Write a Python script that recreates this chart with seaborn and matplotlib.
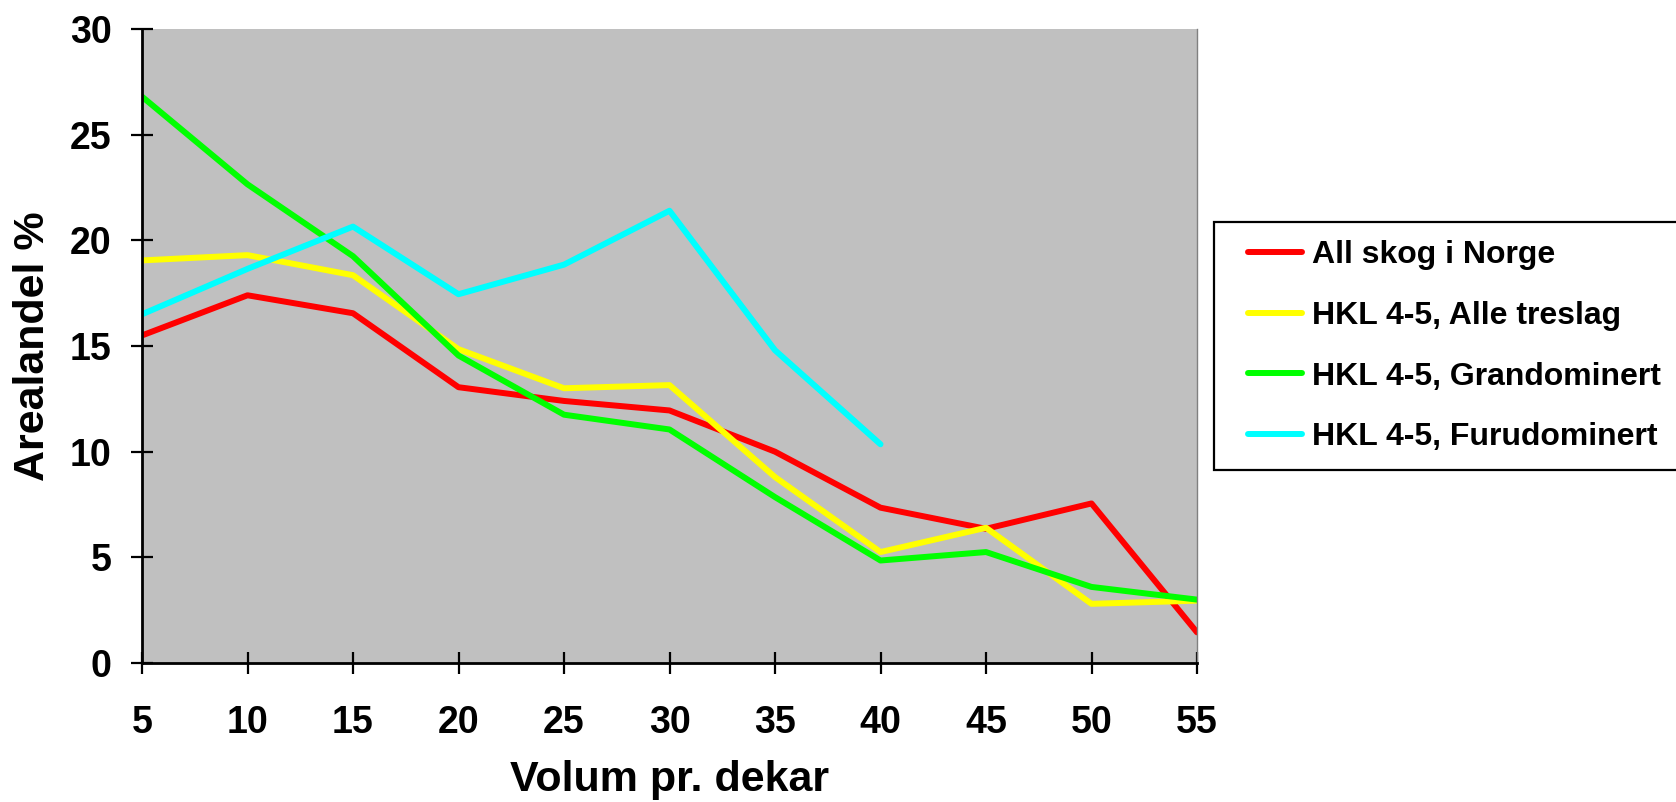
import pandas as pd
import numpy as np
import matplotlib.pyplot as plt
import seaborn as sns
from matplotlib.lines import Line2D
from matplotlib.legend_handler import HandlerLine2D

volum = [5, 10, 15, 20, 25, 30, 35, 40, 45, 50, 55]

all_skog = [15.5, 17.4, 16.55, 13.05, 12.4, 11.95, 10.0, 7.35, 6.35, 7.55, 1.45]
alle_treslag = [19.05, 19.3, 18.35, 14.85, 13.0, 13.15, 8.8, 5.25, 6.4, 2.8, 2.95]
grandominert = [26.8, 22.65, 19.25, 14.55, 11.75, 11.05, 7.85, 4.85, 5.25, 3.6, 3.0]
furudominert = [16.5, 18.65, 20.65, 17.45, 18.85, 21.4, 14.8, 10.35]

series_names = ['All skog i Norge', 'HKL 4-5, Alle treslag',
                'HKL 4-5, Grandominert', 'HKL 4-5, Furudominert']
colors = ['#FF0000', '#FFFF00', '#00FF00', '#00FFFF']

rows = []
for name, vals in zip(series_names, [all_skog, alle_treslag, grandominert, furudominert]):
    for x, v in zip(volum, vals):
        rows.append({'Volum': x, 'Andel': v, 'Serie': name})
df = pd.DataFrame(rows)

sns.set_style('white')
plt.rcParams['font.family'] = ['Liberation Sans', 'DejaVu Sans']
plt.rcParams['font.weight'] = 'bold'
plt.rcParams['text.color'] = 'black'
plt.rcParams['axes.labelcolor'] = 'black'
plt.rcParams['xtick.color'] = 'black'
plt.rcParams['ytick.color'] = 'black'

fig = plt.figure(figsize=(16.76, 8.02), dpi=100)
ax = fig.add_axes([142/1676, 1 - 663/802, (1197-142)/1676, (663-29)/802])
ax.set_facecolor('#C0C0C0')

sns.lineplot(data=df, x='Volum', y='Andel', hue='Serie', hue_order=series_names,
             palette=colors, linewidth=4.3, sort=False, ax=ax, legend=False)

ax.set_xlim(5, 55)
ax.set_ylim(0, 30)
ax.set_xticks(volum)
ax.set_yticks(range(0, 31, 5))

for s in ['left', 'bottom']:
    ax.spines[s].set_color('black')
    ax.spines[s].set_linewidth(2)
ax.spines['top'].set_visible(False)
ax.spines['right'].set_color('#808080')
ax.spines['right'].set_linewidth(1)

ax.tick_params(axis='both', direction='inout', length=16, width=1.6, color='black',
               labelsize=27, labelcolor='black')
ax.tick_params(axis='y', pad=14, left=True)
ax.tick_params(axis='x', pad=22, bottom=True)
for lab in ax.get_xticklabels() + ax.get_yticklabels():
    lab.set_fontweight('bold')

ax.set_xlabel('Volum pr. dekar', fontsize=31, fontweight='bold', labelpad=14)
ax.set_ylabel('Arealandel %', fontsize=31, fontweight='bold', labelpad=12)

handles = ax.get_lines()[:4]
leg = fig.legend(handles, series_names, loc='upper left',
                 bbox_to_anchor=(1214/1676, 1 - 222/802),
                 fontsize=23, frameon=True, fancybox=False, edgecolor='black',
                 framealpha=1, borderpad=0.57, labelspacing=0.96,
                 handlelength=2.19, handletextpad=0.3, borderaxespad=0,
                 handler_map={Line2D: HandlerLine2D(xpad=0.5)})
leg.get_frame().set_linewidth(1.6)
for t in leg.get_texts():
    t.set_fontweight('bold')

fig.savefig('out.png', dpi=100)
